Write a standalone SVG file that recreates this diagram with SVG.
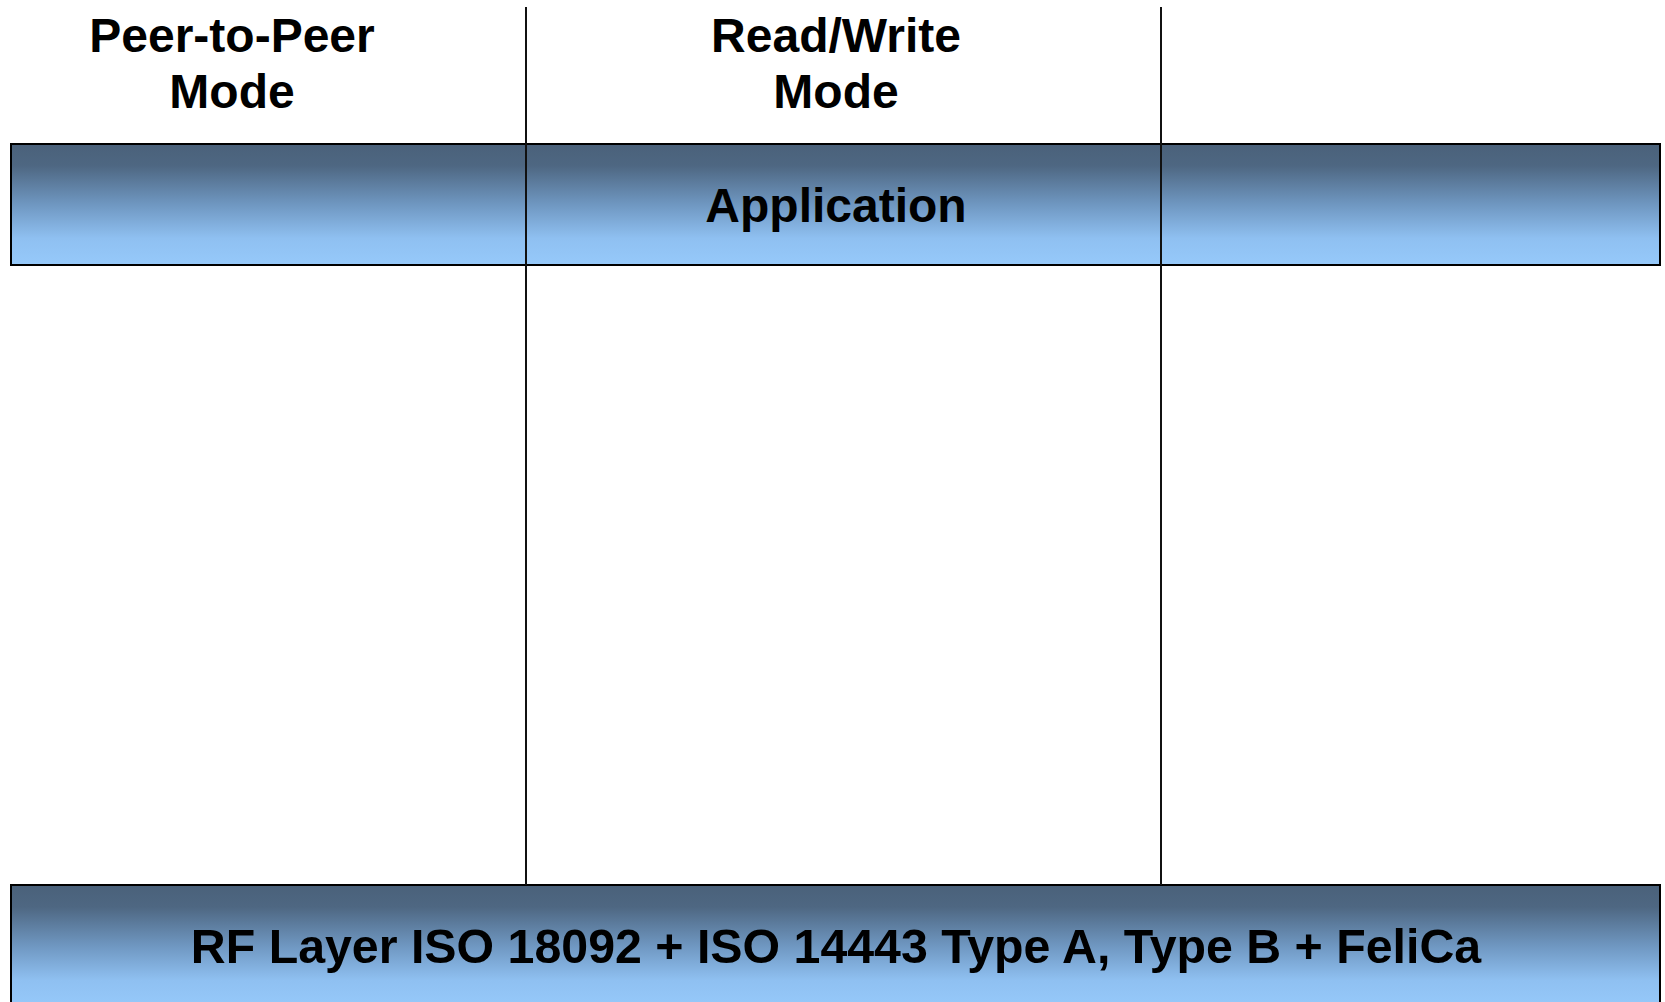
<svg xmlns="http://www.w3.org/2000/svg" width="1665" height="1002" viewBox="0 0 1665 1002">
<defs>
<linearGradient id="band" x1="0" y1="0" x2="0" y2="1">
<stop offset="0" stop-color="#4a617a"/>
<stop offset="0.18" stop-color="#4e6782"/>
<stop offset="0.5" stop-color="#6f97c1"/>
<stop offset="0.78" stop-color="#8fc0f1"/>
<stop offset="1" stop-color="#96c9fa"/>
</linearGradient>
<style>
.band{fill:url(#band);stroke:#000;stroke-width:2}
.div{stroke:#111;stroke-width:2;fill:none}
.t{font-family:"Liberation Sans",Arial,sans-serif;font-weight:bold;font-size:48px;fill:#000;text-anchor:middle}
.rf{font-size:48.3px}
</style>
</defs>
<rect width="1665" height="1002" fill="#fff"/>
<g id="application">
<rect class="band" x="11" y="144" width="1649" height="121"/>
<text class="t" x="836" y="222">Application</text>
</g>
<g id="rf-layer">
<rect class="band" x="11" y="885" width="1649" height="122"/>
<text class="t rf" x="836" y="963">RF Layer ISO 18092 + ISO 14443 Type A, Type B + FeliCa</text>
</g>
<g id="connectors">
<line class="div" x1="526" y1="7" x2="526" y2="885"/>
<line class="div" x1="1161" y1="7" x2="1161" y2="885"/>
</g>
<g id="peer-to-peer">
<text class="t" x="232" y="52">Peer-to-Peer</text>
<text class="t" x="232" y="108">Mode</text>
</g>
<g id="read-write">
<text class="t" x="836" y="52">Read/Write</text>
<text class="t" x="836" y="108">Mode</text>
</g>
</svg>
